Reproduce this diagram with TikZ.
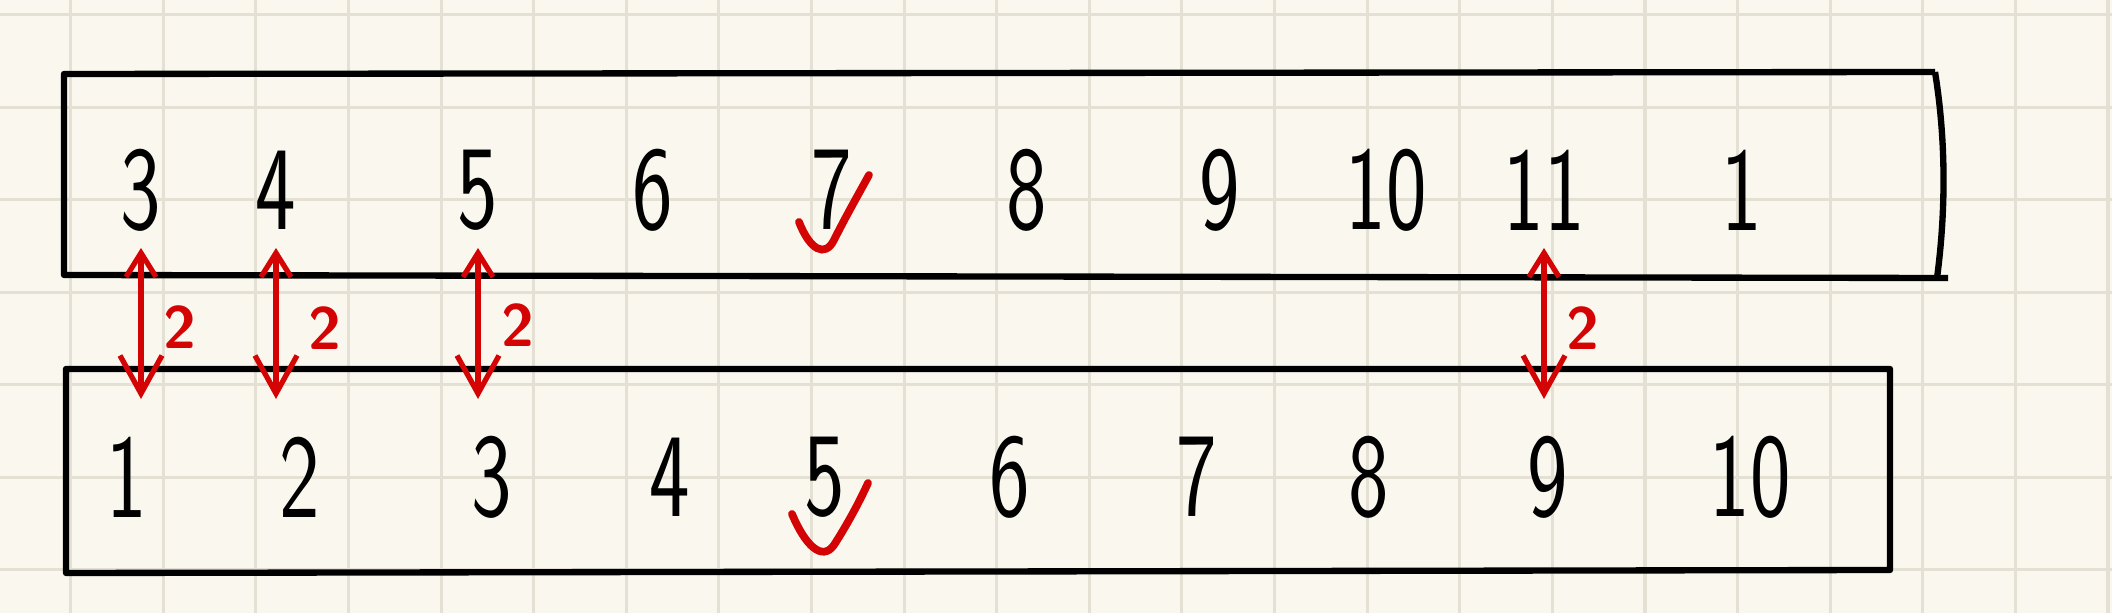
\documentclass[tikz,border=0pt]{standalone}
\usepackage{xcolor}
\usepackage{graphicx}
\usepackage{tikz}
\usetikzlibrary{arrows.meta}
\definecolor{paper}{RGB}{250,248,238}
\definecolor{ruling}{RGB}{228,225,212}
\definecolor{pen}{RGB}{212,4,4}

\begin{document}
\begin{tikzpicture}[x=0.01cm,y=-0.01cm,
    num/.style={font=\sffamily\fontsize{34}{34}\selectfont},
    box/.style={line width=1.8pt,line join=round},
    twoway/.style={pen,line width=1.5pt,{Straight Barb[length=2.4mm,width=3mm]}-{Straight Barb[length=3.8mm,width=4.2mm]}},
    dist/.style={text=pen,font=\sffamily\bfseries\fontsize{17}{17}\selectfont},
    checkmark/.style={pen,line width=2.2pt,line cap=round}]
            % paper
            \fill[paper] (0,0) rectangle (2112,613);
            \useasboundingbox (0,0) rectangle (2112,613);
            \foreach \k in {0,...,22}
                \draw[ruling,line width=0.9pt] (70.7+92.6*\k,0) -- (70.7+92.6*\k,613);
            \foreach \k in {0,...,6}
                \draw[ruling,line width=0.9pt] (0,14.9+92.5*\k) -- (2112,14.9+92.5*\k);
            % the two boxes
            \draw[box] (1935,72) -- (64,74) -- (64,275) -- (1948,278);
            \draw[box] (1935,72) .. controls (1946,140) and (1946,210) .. (1937,278);
            \draw[box] (66,369) -- (1890,369) -- (1890,570) -- (66,573) -- cycle;
            % top row
            \foreach \v/\x in {3/141,4/276,5/478,6/653,7/832,8/1027,9/1220,10/1386,11/1544,1/1742}
                \node[num] (t\v) at (\x,190) {\scalebox{0.72}[1]{\v}};
            % bottom row
            \foreach \v/\x in {1/127,2/300,3/492,4/670,5/825,6/1010,7/1197,8/1369,9/1548,10/1750}
                \node[num] (b\v) at (\x,477) {\scalebox{0.72}[1]{\v}};
            \coordinate (up) at (0,248);
            \coordinate (dn) at (0,399);
            \draw[twoway] (t3 |- up) -- (t3 |- dn);
            \draw[twoway] (t4 |- up) -- (t4 |- dn);
            \draw[twoway] (t5 |- up) -- (t5 |- dn);
            \draw[twoway] (t11 |- up) -- (t11 |- dn);
            \node[dist] (d3) at (180,327) {2};
            \node[dist] (d4) at (325,328) {2};
            \node[dist] (d5) at (518,325) {2};
            \node[dist] (d11) at (1583,328) {2};
            % ticks
            \draw[checkmark] (799,222) .. controls (810,250) and (825,258) .. (834,240) .. controls (845,218) and (858,195) .. (869,175);
            \draw[checkmark] (792,514) .. controls (805,545) and (822,562) .. (834,545) .. controls (845,528) and (858,505) .. (868,483);
        \end{tikzpicture}
\end{document}
